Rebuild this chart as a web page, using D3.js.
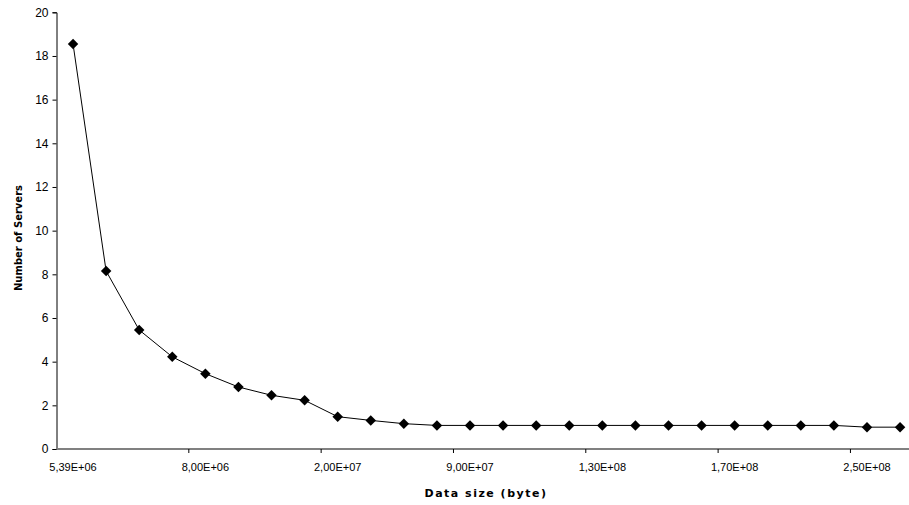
<!DOCTYPE html>
<html>
<head>
<meta charset="utf-8">
<script src="https://cdn.jsdelivr.net/npm/d3@7"></script>
<style>
body { margin: 0; background: #fff; }
svg { display: block; }
</style>
</head>
<body>
<script>
// data size categories (only every 4th is labelled on the axis)
var sizes = ["5,39E+06", "6,00E+06", "6,50E+06", "7,00E+06", "8,00E+06", "9,00E+06", "1,00E+07", "1,50E+07",
	"2,00E+07", "3,00E+07", "5,00E+07", "7,00E+07", "9,00E+07", "1,00E+08", "1,10E+08", "1,20E+08",
	"1,30E+08", "1,40E+08", "1,50E+08", "1,60E+08", "1,70E+08", "1,80E+08", "1,90E+08", "2,00E+08",
	"2,50E+08", "3,00E+08"];
var servers = [18.55, 8.15, 5.45, 4.22, 3.45, 2.84, 2.46, 2.23,
	1.48, 1.31, 1.16, 1.08, 1.08, 1.08, 1.08, 1.08,
	1.08, 1.08, 1.08, 1.08, 1.08, 1.08, 1.08, 1.08,
	1.0, 1.0];
var yTicks = [0, 2, 4, 6, 8, 10, 12, 14, 16, 18, 20];

var width = 909,
	height = 505;

var svg = d3.select("body").append("svg")
	.attr("width", width)
	.attr("height", height);

var xScale = d3.scaleBand()
	.domain(sizes)
	.range([56.5, 916.6])
	.padding(0);

var yScale = d3.scaleLinear()
	.domain([0, 20])
	.range([449, 12.3]);

var data = sizes.map(function(s, i){
	return {size: s, value: servers[i]};
});

// y axis
var yAxis = svg.append("g")
	.attr("transform", "translate(56.5,0)")
	.call(d3.axisLeft(yScale).tickValues(yTicks).tickSize(4).tickPadding(4));
yAxis.select(".domain").attr("stroke", "#000");
yAxis.selectAll("text")
	.attr("font-family", "Liberation Sans, Arial, sans-serif")
	.attr("font-size", 12)
	.attr("fill", "#000");

// x axis, ticks between categories every 4th
var xAxis = svg.append("g")
	.attr("transform", "translate(0,449)");
xAxis.append("line")
	.attr("x1", xScale.range()[0])
	.attr("x2", xScale.range()[1])
	.attr("stroke", "#808080")
	.attr("stroke-width", 2);
xAxis.selectAll(".tk")
	.data(sizes.filter(function(d, i){ return i % 4 == 0 && i > 0; }))
	.enter()
	.append("line")
		.attr("class", "tk")
		.attr("x1", function(d){ return xScale(d); })
		.attr("x2", function(d){ return xScale(d); })
		.attr("y1", 0)
		.attr("y2", 4)
		.attr("stroke", "#000");
xAxis.selectAll(".lbl")
	.data(sizes.filter(function(d, i){ return i % 4 == 0; }))
	.enter()
	.append("text")
		.attr("class", "lbl")
		.attr("x", function(d){ return xScale(d) + xScale.bandwidth() / 2; })
		.attr("y", 22)
		.attr("text-anchor", "middle")
		.attr("font-family", "Liberation Sans, Arial, sans-serif")
		.attr("font-size", 11)
		.text(function(d){ return d; });

// line
var line = d3.line()
	.x(function(d){ return xScale(d.size) + xScale.bandwidth() / 2; })
	.y(function(d){ return yScale(d.value); });

svg.append("path")
	.datum(data)
	.attr("d", line)
	.attr("fill", "none")
	.attr("stroke", "#000")
	.attr("stroke-width", 1);

svg.selectAll(".pt")
	.data(data)
	.enter()
	.append("path")
		.attr("class", "pt")
		.attr("d", d3.symbol().type(d3.symbolDiamond2).size(70))
		.attr("transform", function(d){
			return "translate(" + (xScale(d.size) + xScale.bandwidth() / 2) + "," + yScale(d.value) + ")";
		})
		.attr("fill", "#000");

// axis titles
svg.append("text")
	.attr("x", 486)
	.attr("y", 497)
	.attr("text-anchor", "middle")
	.attr("font-family", "DejaVu Sans, sans-serif")
	.attr("font-weight", "bold")
	.attr("font-size", 11)
	.attr("letter-spacing", 1.5)
	.text("Data size (byte)");

svg.append("text")
	.attr("transform", "translate(22,238) rotate(-90)")
	.attr("text-anchor", "middle")
	.attr("font-family", "DejaVu Sans, sans-serif")
	.attr("font-weight", "bold")
	.attr("font-size", 10)
	.text("Number of Servers");
</script>
</body>
</html>
